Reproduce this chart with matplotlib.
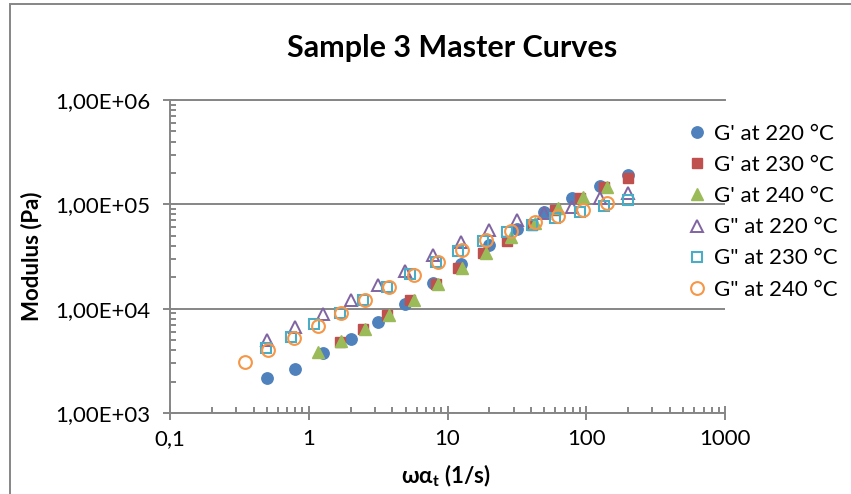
"""
Sample 3 master curves: G' and G'' vs shifted frequency on log-log axes.
Saves out.png (851x494).
"""
import matplotlib.pyplot as plt
from matplotlib.patches import Rectangle
from matplotlib.ticker import NullFormatter

plt.rcParams['font.family'] = ['Lato', 'Open Sans', 'DejaVu Sans']
plt.rcParams['mathtext.default'] = 'regular'

# ---- data ----
x_220 = [0.5, 0.79, 1.26, 2.0, 3.14, 4.97, 7.8, 12.5, 19.9, 31.6, 49.8, 79.5, 126, 199]
gp_220 = [2150, 2660, 3720, 5100, 7420, 11200, 17500, 26700, 40800, 58500, 84500, 115000, 149000, 191000]
gpp_220 = [5000, 6620, 8870, 12100, 16800, 22800, 32700, 43800, 56800, 70600, 82000, 94800, 116000, 128000]

x_230 = [0.49, 0.745, 1.1, 1.67, 2.45, 3.66, 5.4, 8.25, 12.0, 17.9, 27.0, 40.5, 59.5, 90.0, 135, 200]
gp_230 = [None, None, None, 4820, 6330, 8690, 12100, 17100, 24300, 33900, 44400, 63000, 88100, 114300, 147600, 177500]
gpp_230 = [4160, 5380, 7110, 9140, 12100, 16200, 21500, 27800, 35600, 44400, 54600, 63400, 74500, 84900, 96400, 109800]

x_240 = [0.348, 0.51, 0.78, 1.165, 1.72, 2.53, 3.8, 5.69, 8.5, 12.7, 19.0, 28.5, 42.5, 63.0, 95.0, 142]
gp_240 = [None, None, None, 3870, 4900, 6330, 8690, 12100, 17100, 24700, 33900, 49000, 65800, 91600, 118400, 147600]
gpp_240 = [3100, 4010, 5190, 6800, 9140, 12100, 16200, 21000, 28000, 36500, 45600, 55200, 67100, 77800, 88100, 102300]

series_labels = ["G' at 220 °C", "G' at 230 °C", "G' at 240 °C",
                 "G\" at 220 °C", "G\" at 230 °C", "G\" at 240 °C"]

x_ticks = [0.1, 1, 10, 100, 1000]
x_tick_labels = ["0,1", "1", "10", "100", "1000"]
y_ticks = [1e3, 1e4, 1e5, 1e6]
y_tick_labels = ["1,00E+03", "1,00E+04", "1,00E+05", "1,00E+06"]


def pairs(xs, ys):
    pts = [(x, y) for x, y in zip(xs, ys) if y is not None]
    return [p[0] for p in pts], [p[1] for p in pts]


def main():
    gray = "#868686"
    fig = plt.figure(figsize=(8.51, 4.94), dpi=100)
    ax = fig.add_axes([170 / 851, 81 / 494, 555 / 851, 313 / 494])

    data = [(x_220, gp_220), (x_230, gp_230), (x_240, gp_240),
            (x_220, gpp_220), (x_230, gpp_230), (x_240, gpp_240)]
    styles = [
        dict(marker="o", ms=8.2, mfc="#4F81BD", mec="#4F81BD"),
        dict(marker="s", ms=7.8, mfc="#C0504D", mec="#C0504D"),
        dict(marker="^", ms=9.2, mfc="#9BBB59", mec="#9BBB59"),
        dict(marker="^", ms=8.4, mfc="none", mec="#8064A2", mew=1.4),
        dict(marker="s", ms=7.6, mfc="none", mec="#4BACC6", mew=1.5),
        dict(marker="o", ms=9.2, mfc="none", mec="#F79646", mew=1.5),
    ]
    handles = []
    for (xs, ys), st, lab in zip(data, styles, series_labels):
        px, py = pairs(xs, ys)
        (h,) = ax.plot(px, py, linestyle="none", label=lab, clip_on=False, **st)
        handles.append(h)

    ax.set_xscale("log")
    ax.set_yscale("log")
    ax.set_xlim(0.1, 1000)
    ax.set_ylim(1e3, 1e6)
    ax.set_xticks(x_ticks, x_tick_labels)
    ax.set_yticks(y_ticks, y_tick_labels)
    ax.xaxis.set_minor_formatter(NullFormatter())
    ax.yaxis.set_minor_formatter(NullFormatter())

    ax.grid(axis="y", which="major", color=gray, lw=1.4)
    ax.set_axisbelow(True)
    for side in ["left", "bottom", "top"]:
        ax.spines[side].set_color(gray)
        ax.spines[side].set_linewidth(1.4)
    ax.spines["right"].set_visible(False)

    ax.tick_params(which="major", direction="inout", length=10.5, width=1.4,
                   color=gray, labelsize=16, labelcolor="black")
    ax.tick_params(axis="x", which="major", pad=6)
    ax.tick_params(axis="y", which="major", pad=9)
    ax.tick_params(which="minor", direction="in", length=4.3, width=1.4, color=gray)
    ax.tick_params(top=False, right=False, which="both")

    ax.set_ylabel("Modulus (Pa)", fontsize=16, fontweight="bold", va="center")
    ax.yaxis.set_label_coords(-0.249, 0.5)
    ax.set_xlabel(r"ωα$_\mathregular{t}$ (1/s)", fontsize=16, fontweight="bold", va="center")
    ax.xaxis.set_label_coords(0.497, -0.201)

    fig.text(452 / 851, 1 - 48 / 494, "Sample 3 Master Curves", fontsize=22,
             fontweight="bold", ha="center", va="center")

    fig.legend(handles, series_labels, loc="upper left",
               bbox_to_anchor=(688 / 851, 1 - 124 / 494), frameon=False,
               borderpad=0, borderaxespad=0, handlelength=0.8, handletextpad=0.35,
               labelspacing=0.5, fontsize=16, numpoints=1)

    # chart area outline (cropped on the right and bottom)
    fig.add_artist(Rectangle((10 / 851, -0.2), 1.5, 1 - 4 / 494 + 0.2,
                             transform=fig.transFigure, fill=False,
                             edgecolor=gray, lw=1.4))

    fig.savefig("out.png", dpi=100)
    plt.close(fig)


if __name__ == "__main__":
    main()
